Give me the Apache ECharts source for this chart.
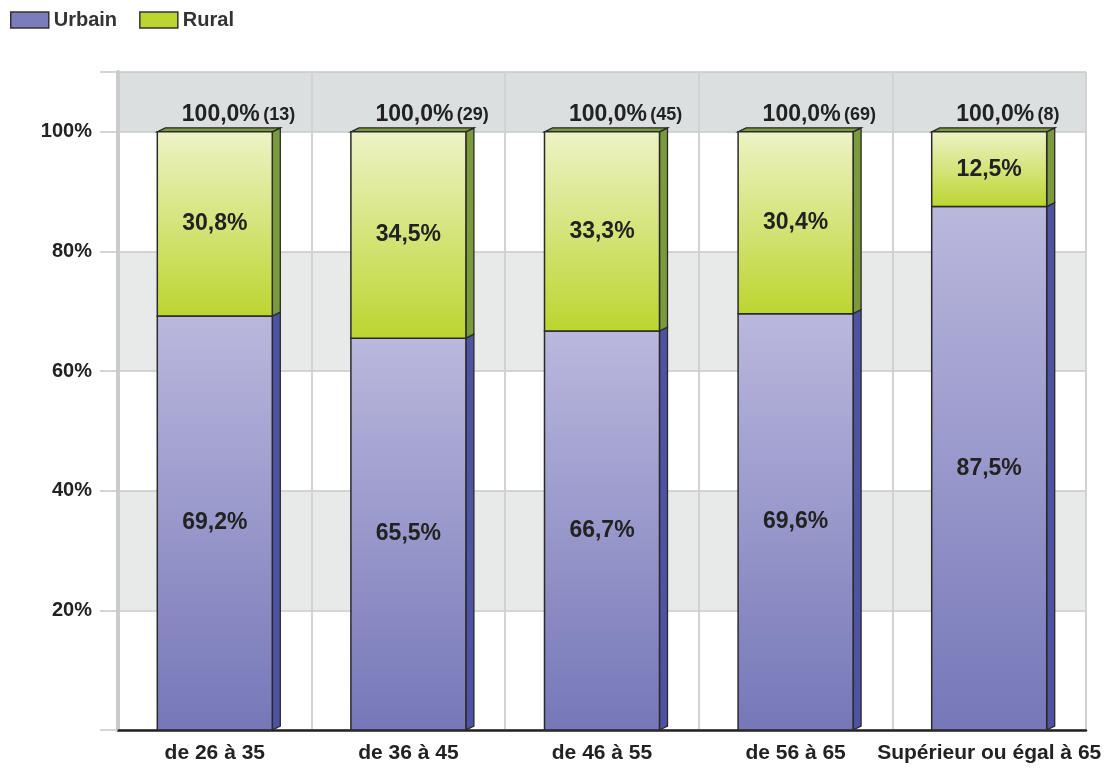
<!DOCTYPE html>
<html>
<head>
<meta charset="utf-8">
<script src="https://cdn.jsdelivr.net/npm/echarts@6/dist/echarts.min.js"></script>
<style>
html,body{margin:0;padding:0;background:#fff;}
#chart{width:1109px;height:771px;}
</style>
</head>
<body>
<div id="chart"></div>
<script>
var categories = ['de 26 à 35', 'de 36 à 45', 'de 46 à 55', 'de 56 à 65', 'Supérieur ou égal à 65'];
var urbain = [69.2, 65.5, 66.7, 69.6, 87.5];
var rural = [30.8, 34.5, 33.3, 30.4, 12.5];
var counts = [13, 29, 45, 69, 8];
var yTicks = [20, 40, 60, 80, 100];

var FONT = '"Liberation Sans", Arial, sans-serif';
function fmt(v) { return v.toFixed(1).replace('.', ','); }

var styles = {
  'Urbain': { top: '#bab8dd', bot: '#7577b8', side: '#4e52a2', topFace: '#4e52a2' },
  'Rural': { top: '#edf3c6', bot: '#bcd52f', side: '#7a9a3b', topFace: '#7a9a3b' }
};

function makeRender(name, isTop) {
  var st = styles[name];
  return function (params, api) {
    var idx = api.value(0), base = api.value(1), val = api.value(2);
    var pT = api.coord([idx, base + val]);
    var pB = api.coord([idx, base]);
    var w = api.size([1, 0])[0] * 0.594;
    var x0 = pT[0] - w / 2, x1 = pT[0] + w / 2;
    var yT = pT[1], yB = pB[1];
    var dx = 8, dy = 4;
    var stroke = '#2a2a2a';
    var children = [];
    children.push({
      type: 'polygon',
      shape: { points: [[x1, yT], [x1 + dx, yT - dy], [x1 + dx, yB - dy], [x1, yB]] },
      style: { fill: st.side, stroke: stroke, lineWidth: 1.3 }
    });
    if (isTop) {
      children.push({
        type: 'polygon',
        shape: { points: [[x0, yT], [x0 + dx, yT - dy], [x1 + dx, yT - dy], [x1, yT]] },
        style: { fill: st.topFace, stroke: stroke, lineWidth: 1.3 }
      });
    }
    children.push({
      type: 'rect',
      shape: { x: x0, y: yT, width: w, height: yB - yT },
      style: {
        fill: new echarts.graphic.LinearGradient(0, 0, 0, 1, [
          { offset: 0, color: st.top }, { offset: 1, color: st.bot }
        ]),
        stroke: stroke, lineWidth: 1.5
      }
    });
    children.push({
      type: 'text',
      style: {
        text: fmt(val) + '%',
        x: pT[0], y: (yT + yB) / 2,
        align: 'center', verticalAlign: 'middle',
        font: 'bold 23px ' + FONT, fill: '#222'
      }
    });
    if (isTop) {
      var total = urbain[idx] + rural[idx];
      children.push({
        type: 'text',
        style: {
          text: '{a|' + fmt(total) + '%} {b|(' + counts[idx] + ')}',
          x: pT[0] - 33, y: yT - 17,
          align: 'left', verticalAlign: 'middle',
          rich: {
            a: { font: 'bold 23px ' + FONT, fill: '#222' },
            b: { font: 'bold 18px ' + FONT, fill: '#222' }
          }
        }
      });
    }
    return { type: 'group', children: children };
  };
}

var urbainData = categories.map(function (c, i) { return [i, 0, urbain[i]]; });
var ruralData = categories.map(function (c, i) { return [i, urbain[i], rural[i]]; });

var chart = echarts.init(document.getElementById('chart'), null, { renderer: 'canvas' });
chart.setOption({
  animation: false,
  backgroundColor: '#ffffff',
  legend: {
    left: 8, top: 8,
    icon: 'rect',
    itemWidth: 38, itemHeight: 16, itemGap: 22, padding: [2, 2, 2, 2],
    itemStyle: { borderColor: '#333', borderWidth: 1.5 },
    textStyle: { fontFamily: FONT, fontWeight: 'bold', fontSize: 20, color: '#333' },
    data: ['Urbain', 'Rural']
  },
  grid: { left: 118, right: 23, top: 72, bottom: 41 },
  xAxis: {
    type: 'category',
    data: categories,
    boundaryGap: true,
    axisLine: { show: true, lineStyle: { color: '#222', width: 2.5 } },
    axisTick: { show: false },
    splitLine: { show: true, lineStyle: { color: '#d2d2d2', width: 2 } },
    axisLabel: { interval: 0, margin: 13, fontFamily: FONT, fontWeight: 'bold', fontSize: 21, color: '#222' }
  },
  yAxis: {
    type: 'value',
    min: 0, max: 110, interval: 20,
    axisLine: { show: true, lineStyle: { color: '#cbcbcb', width: 4 } },
    axisTick: { show: true, length: 18, lineStyle: { color: '#c8c8c8', width: 1.5 } },
    splitLine: { show: true, lineStyle: { color: '#c8c8c8', width: 1.5 } },
    splitArea: { show: true, areaStyle: { color: ['#ffffff', '#e8eaea', '#ffffff', '#e8eaea', '#ffffff', '#dcdfe0'] } },
    axisLabel: {
      margin: 26, fontFamily: FONT, fontWeight: 'bold', fontSize: 20, color: '#222',
      formatter: function (v) { return yTicks.indexOf(v) >= 0 ? v + '%' : ''; }
    }
  },
  series: [
    {
      name: 'Urbain', type: 'custom', itemStyle: { color: '#7b7dba' },
      encode: { x: 0, y: [1, 2] },
      renderItem: makeRender('Urbain', false), data: urbainData, z: 2
    },
    {
      name: 'Rural', type: 'custom', itemStyle: { color: '#bcd531' },
      encode: { x: 0, y: [1, 2] },
      renderItem: makeRender('Rural', true), data: ruralData, z: 3
    }
  ]
});
</script>
</body>
</html>
